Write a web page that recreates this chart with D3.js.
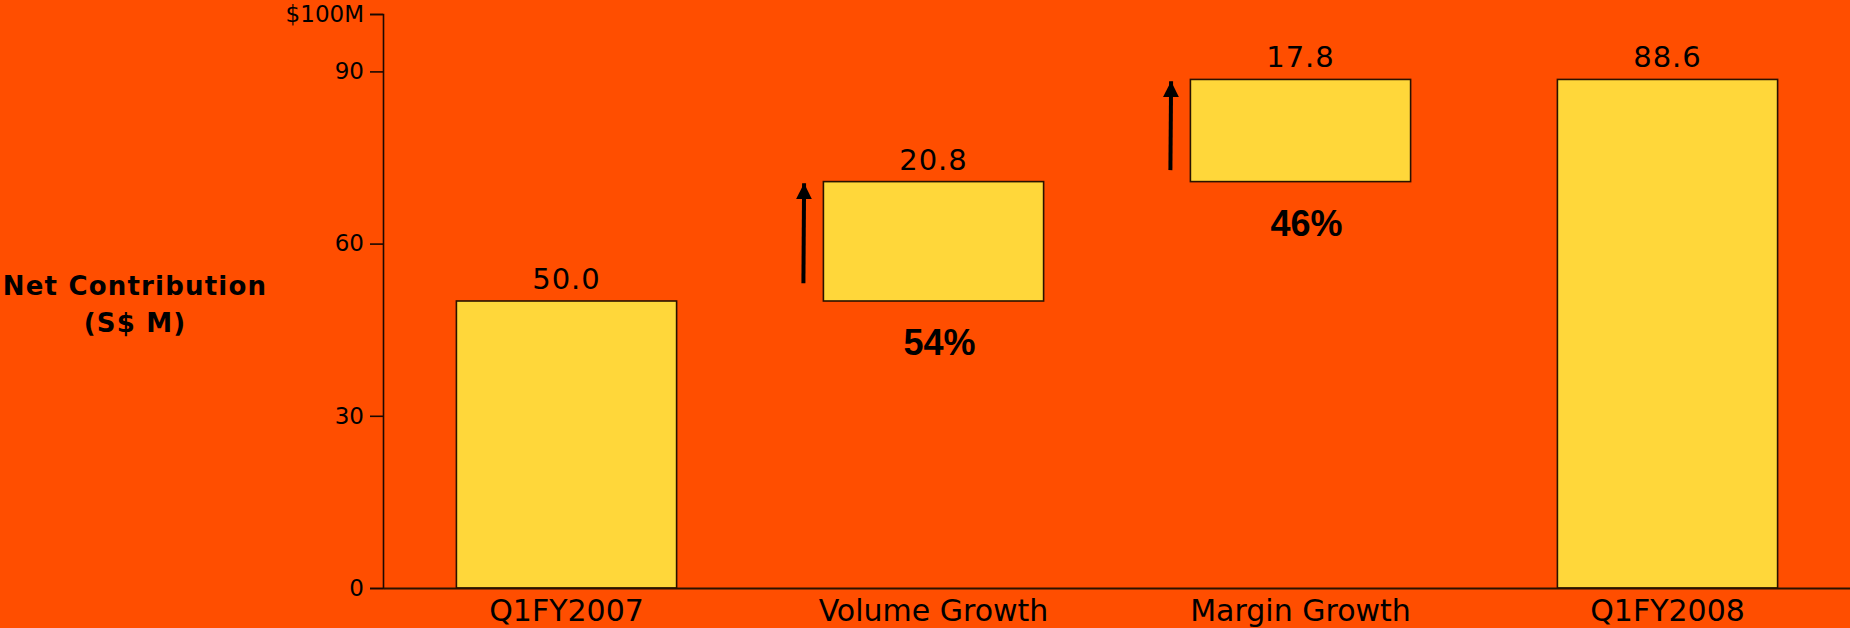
<!DOCTYPE html>
<html><head><meta charset="utf-8">
<script src="https://cdn.jsdelivr.net/npm/d3@7"></script>
<style>
html,body{margin:0;padding:0;background:#FF4E00;}
svg{display:block;}
</style></head>
<body>
<svg id="c" width="1850" height="628"></svg>
<script>
// ---- data ----
const categories = ["Q1FY2007", "Volume Growth", "Margin Growth", "Q1FY2008"];
const barTypes = ["total", "delta", "delta", "total"];
const values = [50.0, 20.8, 17.8, 88.6];
const valueLabels = ["50.0", "20.8", "17.8", "88.6"];
const shareLabels = ["", "54%", "46%", ""];
const arrowFrom = [null, 53.1, 72.8, null];
const arrowTo = [null, 70.5, 88.3, null];
const yTickValues = [0, 30, 60, 90, 100];
const yTickLabels = ["0", "30", "60", "90", "$100M"];
const yTitle = ["Net Contribution", "(S$ M)"];

// ---- layout ----
const W = 1850, H = 628;
const svg = d3.select("#c");
svg.append("rect").attr("width", W).attr("height", H).attr("fill", "#FF4E00");

const x = d3.scaleBand().domain(categories).range([383, 1851]).paddingInner(0.4).paddingOuter(0.2);
const y = d3.scaleLinear().domain([0, 100]).range([588, 14]);

// waterfall segments
let run = 0;
const bars = categories.map((c, i) => {
  let lo, hi;
  if (barTypes[i] === "total") { lo = 0; hi = values[i]; run = values[i]; }
  else { lo = run; hi = run + values[i]; run = hi; }
  return {c, i, lo, hi};
});

// y axis
const yAxis = d3.axisLeft(y).tickValues(yTickValues)
  .tickFormat(d => yTickLabels[yTickValues.indexOf(d)])
  .tickSize(13).tickPadding(6);
const gy = svg.append("g").attr("transform", "translate(383,0)").call(yAxis);
gy.select(".domain").attr("stroke", "#1a0800").attr("stroke-width", 1.6);
gy.selectAll(".tick line").attr("stroke", "#1a0800").attr("stroke-width", 1.6);
gy.selectAll(".tick text").attr("fill", "#000").style("font-family", "'DejaVu Sans', Verdana, sans-serif").style("font-size", "23px");

// bars
svg.append("g").selectAll("rect").data(bars).join("rect")
  .attr("x", d => x(d.c))
  .attr("width", x.bandwidth())
  .attr("y", d => y(d.hi))
  .attr("height", d => y(d.lo) - y(d.hi))
  .attr("fill", "#FFD73A")
  .attr("stroke", "#2a1200")
  .attr("stroke-width", 1.6);

// x axis
const xAxis = d3.axisBottom(x).tickSize(0).tickPadding(10);
const gx = svg.append("g").attr("transform", "translate(0,588)").call(xAxis);
gx.select(".domain").attr("stroke", "#2a1200").attr("stroke-width", 2);
gx.selectAll(".tick text").attr("fill", "#000").attr("dy", null).attr("y", 33)
  .style("font-family", "'DejaVu Sans', Verdana, sans-serif").style("font-size", "30px");

// value labels
svg.append("g").selectAll("text").data(bars).join("text")
  .attr("x", d => x(d.c) + x.bandwidth() / 2)
  .attr("y", d => y(d.hi) - 12)
  .attr("text-anchor", "middle")
  .style("font-family", "'DejaVu Sans', Verdana, sans-serif")
  .style("font-size", "29px")
  .style("letter-spacing", "1px")
  .attr("fill", "#000")
  .text((d, i) => valueLabels[i]);

// share labels
svg.append("g").selectAll("text").data(bars.filter(d => shareLabels[d.i])).join("text")
  .attr("x", d => x(d.c) + x.bandwidth() / 2 + 6)
  .attr("y", d => y(d.lo) + 54)
  .attr("text-anchor", "middle")
  .style("font-family", "'Liberation Sans', Arial, sans-serif")
  .style("font-weight", "bold")
  .style("font-size", "36px")
  .attr("fill", "#000")
  .text(d => shareLabels[d.i]);

// arrows
const defs = svg.append("defs");
defs.append("marker").attr("id", "ah").attr("viewBox", "0 0 10 10")
  .attr("refX", 10).attr("refY", 5).attr("markerWidth", 4).attr("markerHeight", 4)
  .attr("markerUnits", "strokeWidth").attr("orient", "auto")
  .append("path").attr("d", "M0,0 L10,5 L0,10 Z").attr("fill", "#000");
svg.append("g").selectAll("line").data(bars.filter(d => arrowFrom[d.i] != null)).join("line")
  .attr("x1", d => x(d.c) - 20)
  .attr("x2", d => x(d.c) - 20 + 0.7)
  .attr("y1", d => y(arrowFrom[d.i]))
  .attr("y2", d => y(arrowTo[d.i]))
  .attr("stroke", "#000").attr("stroke-width", 4)
  .attr("marker-end", "url(#ah)");

// y title
const t = svg.append("text").attr("text-anchor", "middle")
  .style("font-family", "'DejaVu Sans', Verdana, sans-serif")
  .style("font-weight", "bold").style("font-size", "26px")
  .style("letter-spacing", "1.2px").attr("fill", "#000");
t.selectAll("tspan").data(yTitle).join("tspan")
  .attr("x", 135).attr("y", (d, i) => 295 + i * 37).text(d => d);
</script>
</body></html>
